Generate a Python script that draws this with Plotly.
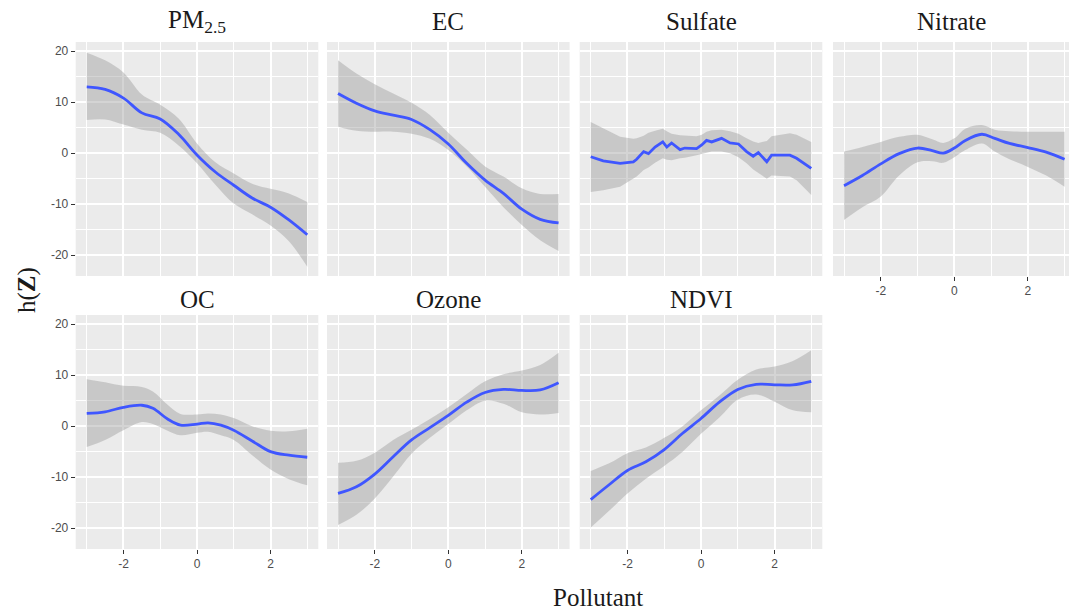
import plotly.graph_objects as go

# ---------------- data ----------------
panel_names = ["PM<sub>2.5</sub>", "EC", "Sulfate", "Nitrate", "OC", "Ozone", "NDVI"]

grid_x = [-3, -2.5, -2, -1.5, -1, -0.5, 0, 0.5, 1, 1.5, 2, 2.5, 3]

pm25_x = grid_x
pm25_fit = [13.0, 12.5, 10.8, 7.9, 6.7, 3.7, -0.35, -3.7, -6.3, -8.8, -10.6, -13.1, -16.0]
pm25_upper = [19.7, 18.2, 15.8, 11.5, 9.5, 6.8, 1.9, -1.8, -4.0, -6.0, -7.0, -7.9, -9.6]
pm25_lower = [6.5, 6.6, 5.6, 4.6, 4.0, 1.5, -2.0, -6.2, -9.9, -12.0, -14.2, -17.3, -22.3]

ec_x = grid_x
ec_fit = [11.7, 9.8, 8.3, 7.45, 6.6, 4.6, 1.8, -2.0, -5.3, -7.9, -11.0, -13.0, -13.7]
ec_upper = [18.2, 15.6, 13.5, 11.7, 9.9, 7.5, 4.0, 0.7, -2.6, -4.6, -6.9, -8.0, -8.0]
ec_lower = [5.2, 4.4, 4.2, 4.2, 3.8, 2.8, 0.6, -2.6, -6.6, -10.6, -14.1, -17.1, -19.2]

sulfate_x = [-3, -2.66, -2.2, -1.84, -1.75, -1.56, -1.43, -1.25, -1.04, -0.93, -0.8, -0.57,
             -0.44, -0.12, 0.02, 0.15, 0.29, 0.56, 0.79, 1.02, 1.24, 1.42, 1.56, 1.79, 1.92,
             2.42, 2.6, 3]
sulfate_fit = [-0.7, -1.5, -2.0, -1.7, -1.2, 0.3, -0.1, 1.2, 2.2, 1.2, 2.0, 0.7,
               1.0, 0.9, 1.6, 2.5, 2.2, 2.9, 2.0, 1.8, 0.3, -0.6, 0.1, -1.7, -0.4,
               -0.4, -1.0, -3.0]
sulfate_upper = [6.1, 4.8, 3.2, 2.8, 2.9, 3.4, 4.0, 4.4, 4.8, 4.3, 3.8, 3.5,
                 3.4, 3.3, 3.6, 4.2, 4.5, 4.6, 4.3, 3.8, 2.9, 2.3, 2.0, 2.4, 3.3,
                 3.9, 3.6, 2.2]
sulfate_lower = [-7.6, -7.3, -6.6, -5.0, -4.6, -3.3, -2.8, -1.9, -1.0, -1.3, -1.4, -1.0,
                 -0.9, -0.4, -0.2, 0.1, 0.3, 0.3, 0.0, -0.8, -2.0, -3.2, -3.9, -5.0, -4.4,
                 -4.6, -5.3, -8.2]

nitrate_x = [-3, -2.5, -2, -1.5, -1, -0.6, -0.3, 0, 0.3, 0.75, 1.1, 1.5, 2, 2.5, 3]
nitrate_fit = [-6.4, -4.4, -2.1, -0.1, 1.0, 0.5, 0.0, 1.0, 2.5, 3.7, 2.9, 1.9, 1.1, 0.2, -1.2]
nitrate_upper = [0.3, 1.2, 2.2, 3.2, 3.6, 2.7, 2.0, 2.9, 4.8, 5.5, 4.6, 4.3, 4.2, 4.2, 4.2]
nitrate_lower = [-13.1, -10.6, -8.5, -4.4, -1.8, -1.6, -1.9, -0.8, 0.6, 1.9, 0.3, -1.2, -2.7, -4.4, -6.6]

oc_x = [-3, -2.5, -2, -1.5, -1.2, -0.8, -0.45, 0, 0.3, 0.65, 1, 1.5, 2, 2.5, 3]
oc_fit = [2.5, 2.8, 3.7, 4.1, 3.5, 1.4, 0.2, 0.4, 0.65, 0.2, -0.8, -2.9, -5.0, -5.7, -6.1]
oc_upper = [9.2, 8.6, 7.9, 7.7, 6.8, 4.2, 2.4, 2.3, 2.5, 2.3, 1.6, 0.0, -0.9, -1.0, -0.5]
oc_lower = [-4.1, -2.7, -0.8, 0.8, 0.4, -0.9, -1.8, -1.3, -1.1, -1.8, -2.7, -5.7, -8.5, -10.4, -11.6]

ozone_x = grid_x
ozone_fit = [-13.2, -11.9, -9.4, -6.0, -2.7, -0.3, 2.1, 4.7, 6.6, 7.2, 7.0, 7.1, 8.5]
ozone_upper = [-7.2, -6.8, -5.2, -2.7, -0.7, 1.4, 3.7, 6.3, 8.8, 10.2, 10.9, 12.0, 14.4]
ozone_lower = [-19.4, -17.4, -14.2, -9.9, -5.4, -2.3, 0.4, 3.1, 5.0, 4.4, 2.7, 2.3, 2.6]

ndvi_x = grid_x
ndvi_fit = [-14.4, -11.5, -8.7, -7.0, -4.6, -1.4, 1.5, 4.7, 7.2, 8.2, 8.1, 8.1, 8.8]
ndvi_upper = [-8.8, -7.3, -5.3, -4.2, -2.3, 0.0, 3.1, 6.0, 9.1, 11.1, 11.7, 12.8, 14.9]
ndvi_lower = [-19.9, -16.6, -13.2, -10.3, -7.8, -5.0, -1.5, 1.7, 5.2, 6.2, 4.8, 3.1, 2.7]

x_tick_vals = [-2, 0, 2]
x_tick_text = ["-2", "0", "2"]
y_tick_vals = [-20, -10, 0, 10, 20]
y_tick_text = ["-20", "-10", "0", "10", "20"]

# ---------------- layout ----------------
W, H = 1069, 610
col_px = [(75.7, 318.3), (327.0, 569.6), (579.7, 822.3), (833.0, 1069.0)]
row_px = [(42.0, 276.0), (315.0, 549.0)]
x_ranges = [[-3.3, 3.3], [-3.3, 3.3], [-3.3, 3.3], [-3.3, 3.12]]
y_range = [-24.1, 21.8]
strip_offset = [20, 16]

panels = [
    (pm25_x, pm25_fit, pm25_upper, pm25_lower, 0, 0, "spline"),
    (ec_x, ec_fit, ec_upper, ec_lower, 0, 1, "spline"),
    (sulfate_x, sulfate_fit, sulfate_upper, sulfate_lower, 0, 2, "linear"),
    (nitrate_x, nitrate_fit, nitrate_upper, nitrate_lower, 0, 3, "spline"),
    (oc_x, oc_fit, oc_upper, oc_lower, 1, 0, "spline"),
    (ozone_x, ozone_fit, ozone_upper, ozone_lower, 1, 1, "spline"),
    (ndvi_x, ndvi_fit, ndvi_upper, ndvi_lower, 1, 2, "spline"),
]

TICK_FONT = dict(family="Liberation Sans, Arial, sans-serif", size=12, color="#4D4D4D")
SERIF = "Liberation Serif, Times New Roman, serif"

fig = go.Figure()
layout = dict(
    width=W, height=H,
    margin=dict(l=0, r=0, t=0, b=0, autoexpand=False),
    paper_bgcolor="white",
    plot_bgcolor="#EBEBEB",
    showlegend=False,
    annotations=[],
)

for i, (xs, fit, up, lo, r, c, shape) in enumerate(panels):
    n = i + 1
    xa = "x" if n == 1 else f"x{n}"
    ya = "y" if n == 1 else f"y{n}"
    # ribbon
    fig.add_trace(go.Scatter(x=xs, y=lo, xaxis=xa, yaxis=ya, mode="lines",
                             line=dict(width=0, shape=shape, color="rgba(0,0,0,0)"),
                             hoverinfo="skip"))
    fig.add_trace(go.Scatter(x=xs, y=up, xaxis=xa, yaxis=ya, mode="lines",
                             line=dict(width=0, shape=shape, color="rgba(0,0,0,0)"),
                             fill="tonexty", fillcolor="rgba(153,153,153,0.42)",
                             hoverinfo="skip"))
    fig.add_trace(go.Scatter(x=xs, y=fit, xaxis=xa, yaxis=ya, mode="lines",
                             line=dict(width=2.8, shape=shape, color="#3F56FF")))

    x0, x1 = col_px[c]
    y0, y1 = row_px[r]
    show_x = (r == 1) or (c == 3)
    show_y = (c == 0)
    xkey = "xaxis" if n == 1 else f"xaxis{n}"
    ykey = "yaxis" if n == 1 else f"yaxis{n}"
    layout[xkey] = dict(
        domain=[x0 / W, x1 / W], anchor=ya, range=x_ranges[c],
        tickvals=x_tick_vals, ticktext=x_tick_text,
        showticklabels=show_x, ticks="outside" if show_x else "",
        ticklen=4, tickwidth=1.2, tickcolor="#333333", tickfont=TICK_FONT,
        showgrid=True, gridcolor="white", gridwidth=1.6,
        minor=dict(dtick=1, tick0=0, showgrid=True, gridcolor="white", gridwidth=0.7),
        zeroline=False, showline=False, fixedrange=True,
    )
    layout[ykey] = dict(
        domain=[1 - y1 / H, 1 - y0 / H], anchor=xa, range=y_range,
        tickvals=y_tick_vals, ticktext=y_tick_text,
        showticklabels=show_y, ticks="outside" if show_y else "",
        ticklen=4, tickwidth=1.2, tickcolor="#333333", tickfont=TICK_FONT,
        showgrid=True, gridcolor="white", gridwidth=1.6,
        minor=dict(dtick=5, tick0=0, showgrid=True, gridcolor="white", gridwidth=0.7),
        zeroline=False, showline=False, fixedrange=True,
    )
    layout["annotations"].append(dict(
        text=panel_names[i], xref="paper", yref="paper",
        x=(x0 + x1) / 2 / W, y=1 - (y0 - strip_offset[r]) / H,
        xanchor="center", yanchor="middle", showarrow=False,
        font=dict(family=SERIF, size=25, color="#1A1A1A"),
    ))

layout["annotations"].append(dict(
    text="h(<b>Z</b>)", xref="paper", yref="paper", x=27 / W, y=1 - 290 / H,
    xanchor="center", yanchor="middle", textangle=-90, showarrow=False,
    font=dict(family=SERIF, size=25, color="#1A1A1A"),
))
layout["annotations"].append(dict(
    text="Pollutant", xref="paper", yref="paper", x=598 / W, y=1 - 597 / H,
    xanchor="center", yanchor="middle", showarrow=False,
    font=dict(family=SERIF, size=25, color="#1A1A1A"),
))

fig.update_layout(**layout)
fig.write_html("out.html")
